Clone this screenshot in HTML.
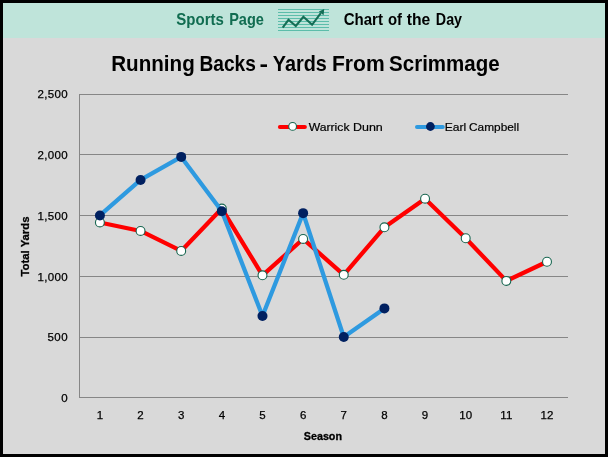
<!DOCTYPE html>
<html><head><meta charset="utf-8"><style>
html,body{margin:0;padding:0;background:#000;}
body{width:608px;height:457px;overflow:hidden;}
svg{display:block;will-change:transform;font-family:"Liberation Sans",sans-serif;}
</style></head><body>
<svg width="608" height="457" viewBox="0 0 608 457">
<rect x="0" y="0" width="608" height="457" fill="#000"/>
<rect x="3" y="3" width="602" height="451" fill="#d9d9d9"/>
<rect x="3" y="3" width="602" height="35" fill="#bfe4da"/>
<g fill="#5cbdaa">
<rect x="278" y="9" width="51" height="1"/><rect x="278" y="12" width="51" height="1"/>
<rect x="278" y="15" width="51" height="1"/><rect x="278" y="18" width="51" height="1"/>
<rect x="278" y="21" width="51" height="1"/><rect x="278" y="24" width="51" height="1"/>
<rect x="278" y="27" width="51" height="1"/><rect x="278" y="30" width="51" height="1"/>
</g>
<polyline points="282.7,27.6 288.5,19.8 295.8,26.0 303.4,16.8 312.1,24.8 320.8,13.2" fill="none" stroke="#146e55" stroke-width="2.1"/>
<polygon points="324.2,9.0 318.9,11.6 323.6,15.2" fill="#146e55"/>
<text x="176.37" y="24.6" textLength="47.55" lengthAdjust="spacingAndGlyphs" font-size="16.5" font-weight="bold" fill="#106c50">Sports</text>
<text x="229.13" y="24.6" textLength="34.77" lengthAdjust="spacingAndGlyphs" font-size="16.5" font-weight="bold" fill="#106c50">Page</text>
<text x="343.68" y="24.6" textLength="39.30" lengthAdjust="spacingAndGlyphs" font-size="16.5" font-weight="bold" fill="#000">Chart</text>
<text x="388.02" y="24.6" textLength="14.05" lengthAdjust="spacingAndGlyphs" font-size="16.5" font-weight="bold" fill="#000">of</text>
<text x="406.81" y="24.6" textLength="23.53" lengthAdjust="spacingAndGlyphs" font-size="16.5" font-weight="bold" fill="#000">the</text>
<text x="435.84" y="24.6" textLength="26.23" lengthAdjust="spacingAndGlyphs" font-size="16.5" font-weight="bold" fill="#000">Day</text>
<text x="111.22" y="71" textLength="83.56" lengthAdjust="spacingAndGlyphs" font-size="22" font-weight="bold" fill="#000">Running</text>
<text x="199.52" y="71" textLength="56.36" lengthAdjust="spacingAndGlyphs" font-size="22" font-weight="bold" fill="#000">Backs</text>
<text x="259.50" y="71" textLength="8.53" lengthAdjust="spacingAndGlyphs" font-size="22" font-weight="bold" fill="#000">-</text>
<text x="272.87" y="71" textLength="54.03" lengthAdjust="spacingAndGlyphs" font-size="22" font-weight="bold" fill="#000">Yards</text>
<text x="331.99" y="71" textLength="52.61" lengthAdjust="spacingAndGlyphs" font-size="22" font-weight="bold" fill="#000">From</text>
<text x="389.11" y="71" textLength="110.49" lengthAdjust="spacingAndGlyphs" font-size="22" font-weight="bold" fill="#000">Scrimmage</text>
<g fill="#868686">
<rect x="79" y="94" width="489" height="1"/>
<rect x="79" y="154" width="489" height="1"/>
<rect x="79" y="215" width="489" height="1"/>
<rect x="79" y="276" width="489" height="1"/>
<rect x="79" y="337" width="489" height="1"/>
<rect x="79" y="397" width="489" height="1"/>
<rect x="79" y="94" width="1" height="304"/>
</g>
<g font-size="11.5" fill="#000" stroke="#000" stroke-width="0.25">
<text x="67.6" y="98" text-anchor="end" textLength="30" lengthAdjust="spacing">2,500</text>
<text x="67.6" y="159" text-anchor="end" textLength="30" lengthAdjust="spacing">2,000</text>
<text x="67.6" y="220" text-anchor="end" textLength="30" lengthAdjust="spacing">1,500</text>
<text x="67.6" y="281" text-anchor="end" textLength="30" lengthAdjust="spacing">1,000</text>
<text x="67.6" y="341" text-anchor="end" textLength="20.2" lengthAdjust="spacing">500</text>
<text x="67.6" y="402" text-anchor="end">0</text>

<text x="99.90" y="419" text-anchor="middle">1</text>
<text x="140.55" y="419" text-anchor="middle">2</text>
<text x="181.19" y="419" text-anchor="middle">3</text>
<text x="221.84" y="419" text-anchor="middle">4</text>
<text x="262.48" y="419" text-anchor="middle">5</text>
<text x="303.12" y="419" text-anchor="middle">6</text>
<text x="343.77" y="419" text-anchor="middle">7</text>
<text x="384.42" y="419" text-anchor="middle">8</text>
<text x="425.06" y="419" text-anchor="middle">9</text>
<text x="465.71" y="419" text-anchor="middle">10</text>
<text x="506.35" y="419" text-anchor="middle">11</text>
<text x="547.00" y="419" text-anchor="middle">12</text>

</g>
<text x="303.8" y="440" font-size="11.5" font-weight="bold" fill="#000" stroke="#000" stroke-width="0.3" textLength="38.2" lengthAdjust="spacingAndGlyphs">Season</text>
<text transform="translate(29,276.5) rotate(-90)" x="0" y="0" font-size="11.5" font-weight="bold" fill="#000" stroke="#000" stroke-width="0.3" textLength="60" lengthAdjust="spacingAndGlyphs">Total Yards</text>
<!-- legend -->
<line x1="279.9" y1="126.9" x2="304.9" y2="126.9" stroke="#ff0000" stroke-width="4" stroke-linecap="round"/>
<circle cx="292.6" cy="126.4" r="3.9" fill="#fff" stroke="#176650" stroke-width="1.1"/>
<line x1="417" y1="126.9" x2="442.8" y2="126.9" stroke="#2e9ae0" stroke-width="4" stroke-linecap="round"/>
<circle cx="430.4" cy="126.5" r="4.4" fill="#002060"/>
<text x="308.65" y="131" textLength="40.84" lengthAdjust="spacingAndGlyphs" font-size="11.5" fill="#000" stroke="#000" stroke-width="0.2">Warrick</text>
<text x="352.98" y="131" textLength="29.83" lengthAdjust="spacingAndGlyphs" font-size="11.5" fill="#000" stroke="#000" stroke-width="0.2">Dunn</text>
<text x="444.71" y="131" textLength="21.50" lengthAdjust="spacingAndGlyphs" font-size="11.5" fill="#000" stroke="#000" stroke-width="0.2">Earl</text>
<text x="469.00" y="131" textLength="50.10" lengthAdjust="spacingAndGlyphs" font-size="11.5" fill="#000" stroke="#000" stroke-width="0.2">Campbell</text>
<!-- series -->
<polyline points="99.90,222.47 140.55,230.96 181.19,250.95 221.84,208.53 262.48,275.32 303.12,238.96 343.77,274.83 384.42,227.32 425.06,198.72 465.71,238.23 506.35,280.89 547.00,261.74" fill="none" stroke="#ff0000" stroke-width="4.25" stroke-linejoin="round"/>
<g fill="#fff" stroke="#176650" stroke-width="1.1">
<circle cx="99.90" cy="222.47" r="4.45"/>
<circle cx="140.55" cy="230.96" r="4.45"/>
<circle cx="181.19" cy="250.95" r="4.45"/>
<circle cx="221.84" cy="208.53" r="4.45"/>
<circle cx="262.48" cy="275.32" r="4.45"/>
<circle cx="303.12" cy="238.96" r="4.45"/>
<circle cx="343.77" cy="274.83" r="4.45"/>
<circle cx="384.42" cy="227.32" r="4.45"/>
<circle cx="425.06" cy="198.72" r="4.45"/>
<circle cx="465.71" cy="238.23" r="4.45"/>
<circle cx="506.35" cy="280.89" r="4.45"/>
<circle cx="547.00" cy="261.74" r="4.45"/>
</g>
<polyline points="99.90,215.44 140.55,179.93 181.19,156.90 221.84,211.32 262.48,316.04 303.12,213.14 343.77,337.01 384.42,308.40" fill="none" stroke="#2e9ae0" stroke-width="4.25" stroke-linejoin="round"/>
<g fill="#002060">
<circle cx="99.90" cy="215.44" r="5"/>
<circle cx="140.55" cy="179.93" r="5"/>
<circle cx="181.19" cy="156.90" r="5"/>
<circle cx="221.84" cy="211.32" r="5"/>
<circle cx="262.48" cy="316.04" r="5"/>
<circle cx="303.12" cy="213.14" r="5"/>
<circle cx="343.77" cy="337.01" r="5"/>
<circle cx="384.42" cy="308.40" r="5"/>
</g>
</svg>
</body></html>
